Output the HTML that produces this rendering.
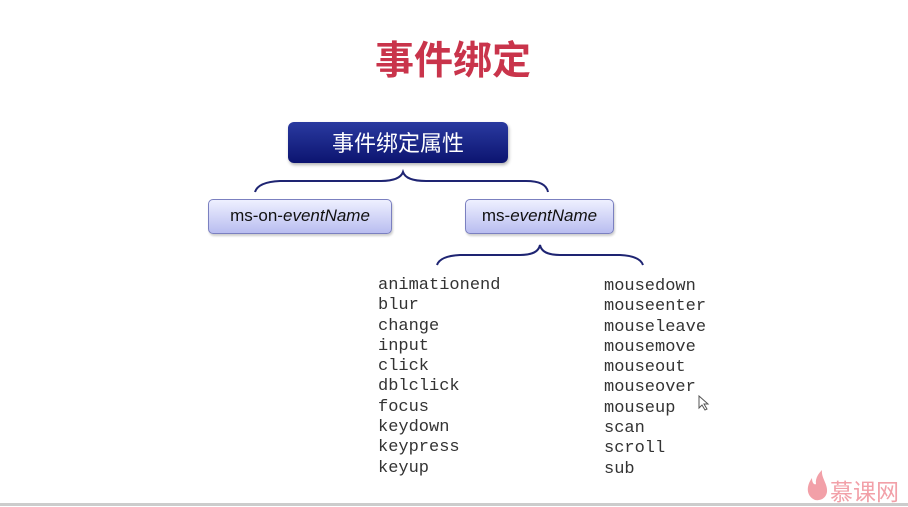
<!DOCTYPE html>
<html><head><meta charset="utf-8"><style>
body{margin:0;width:908px;height:506px;background:#fff;position:relative;overflow:hidden;font-family:"Liberation Sans","Noto Sans CJK SC",sans-serif}
.t{position:absolute;left:375px;top:34px;font-size:39px;font-weight:bold;color:#c9344b;font-family:"Noto Sans CJK SC",sans-serif;line-height:48px}
.b1{position:absolute;left:288px;top:122px;width:220px;height:41px;border-radius:6px;background:linear-gradient(#2a3aa0,#0c1470);color:#fff;font-size:22px;text-align:center;line-height:41px;font-family:"Noto Sans CJK SC",sans-serif;box-shadow:1px 2px 3px rgba(0,0,0,.3)}
.b2{position:absolute;top:199px;height:33px;border-radius:5px;background:linear-gradient(#eef0ff,#b9bdf0);border:1px solid #7b80c0;color:#111;font-size:17px;line-height:32px;text-align:center;box-shadow:1px 2px 2px rgba(0,0,0,.2)}
.l{position:absolute;font-family:"Liberation Mono",monospace;font-size:17px;line-height:20.3px;color:#333;white-space:pre;top:276px}
</style></head><body>
<div class="t">事件绑定</div>
<div class="b1">事件绑定属性</div>
<div class="b2" style="left:208px;width:182px">ms-on-<i>eventName</i></div>
<div class="b2" style="left:465px;width:147px">ms-<i>eventName</i></div>
<svg width="908" height="506" style="position:absolute;left:0;top:0">
<path d="M255 192 Q258 182 280 181 L380 181 Q400 181 403 172 Q406 181 426 181 L526 181 Q546 181 548 192" fill="none" stroke="#1e2472" stroke-width="2"/>
<path d="M437 265 Q440 256 460 255 L520 255 Q538 255 540 245 Q542 255 560 255 L620 255 Q640 256 643 265" fill="none" stroke="#1e2472" stroke-width="2"/>
<path d="M699 396 L699 408 L702 405 L705 410 L707 409 L704 404 L708 404 Z" fill="#fff" stroke="#555" stroke-width="1"/>
<path d="M815 500 C806 496 806 486 812 478 C812 484 815 485 816 484 C815 478 819 473 822 470 C821 478 828 484 827 492 C826 498 821 501 815 500 Z" fill="#f2a0a8"/>
<rect x="0" y="503" width="908" height="3" fill="#ccc"/>
</svg>
<div class="l" style="left:378px">animationend
blur
change
input
click
dblclick
focus
keydown
keypress
keyup</div>
<div class="l" style="left:604px;top:277px">mousedown
mouseenter
mouseleave
mousemove
mouseout
mouseover
mouseup
scan
scroll
sub</div>
<div style="position:absolute;left:830px;top:477px;font-size:23px;color:#f2a0a8;font-family:'Noto Sans CJK SC',sans-serif;line-height:26px;white-space:nowrap">慕课网</div>
</body></html>
